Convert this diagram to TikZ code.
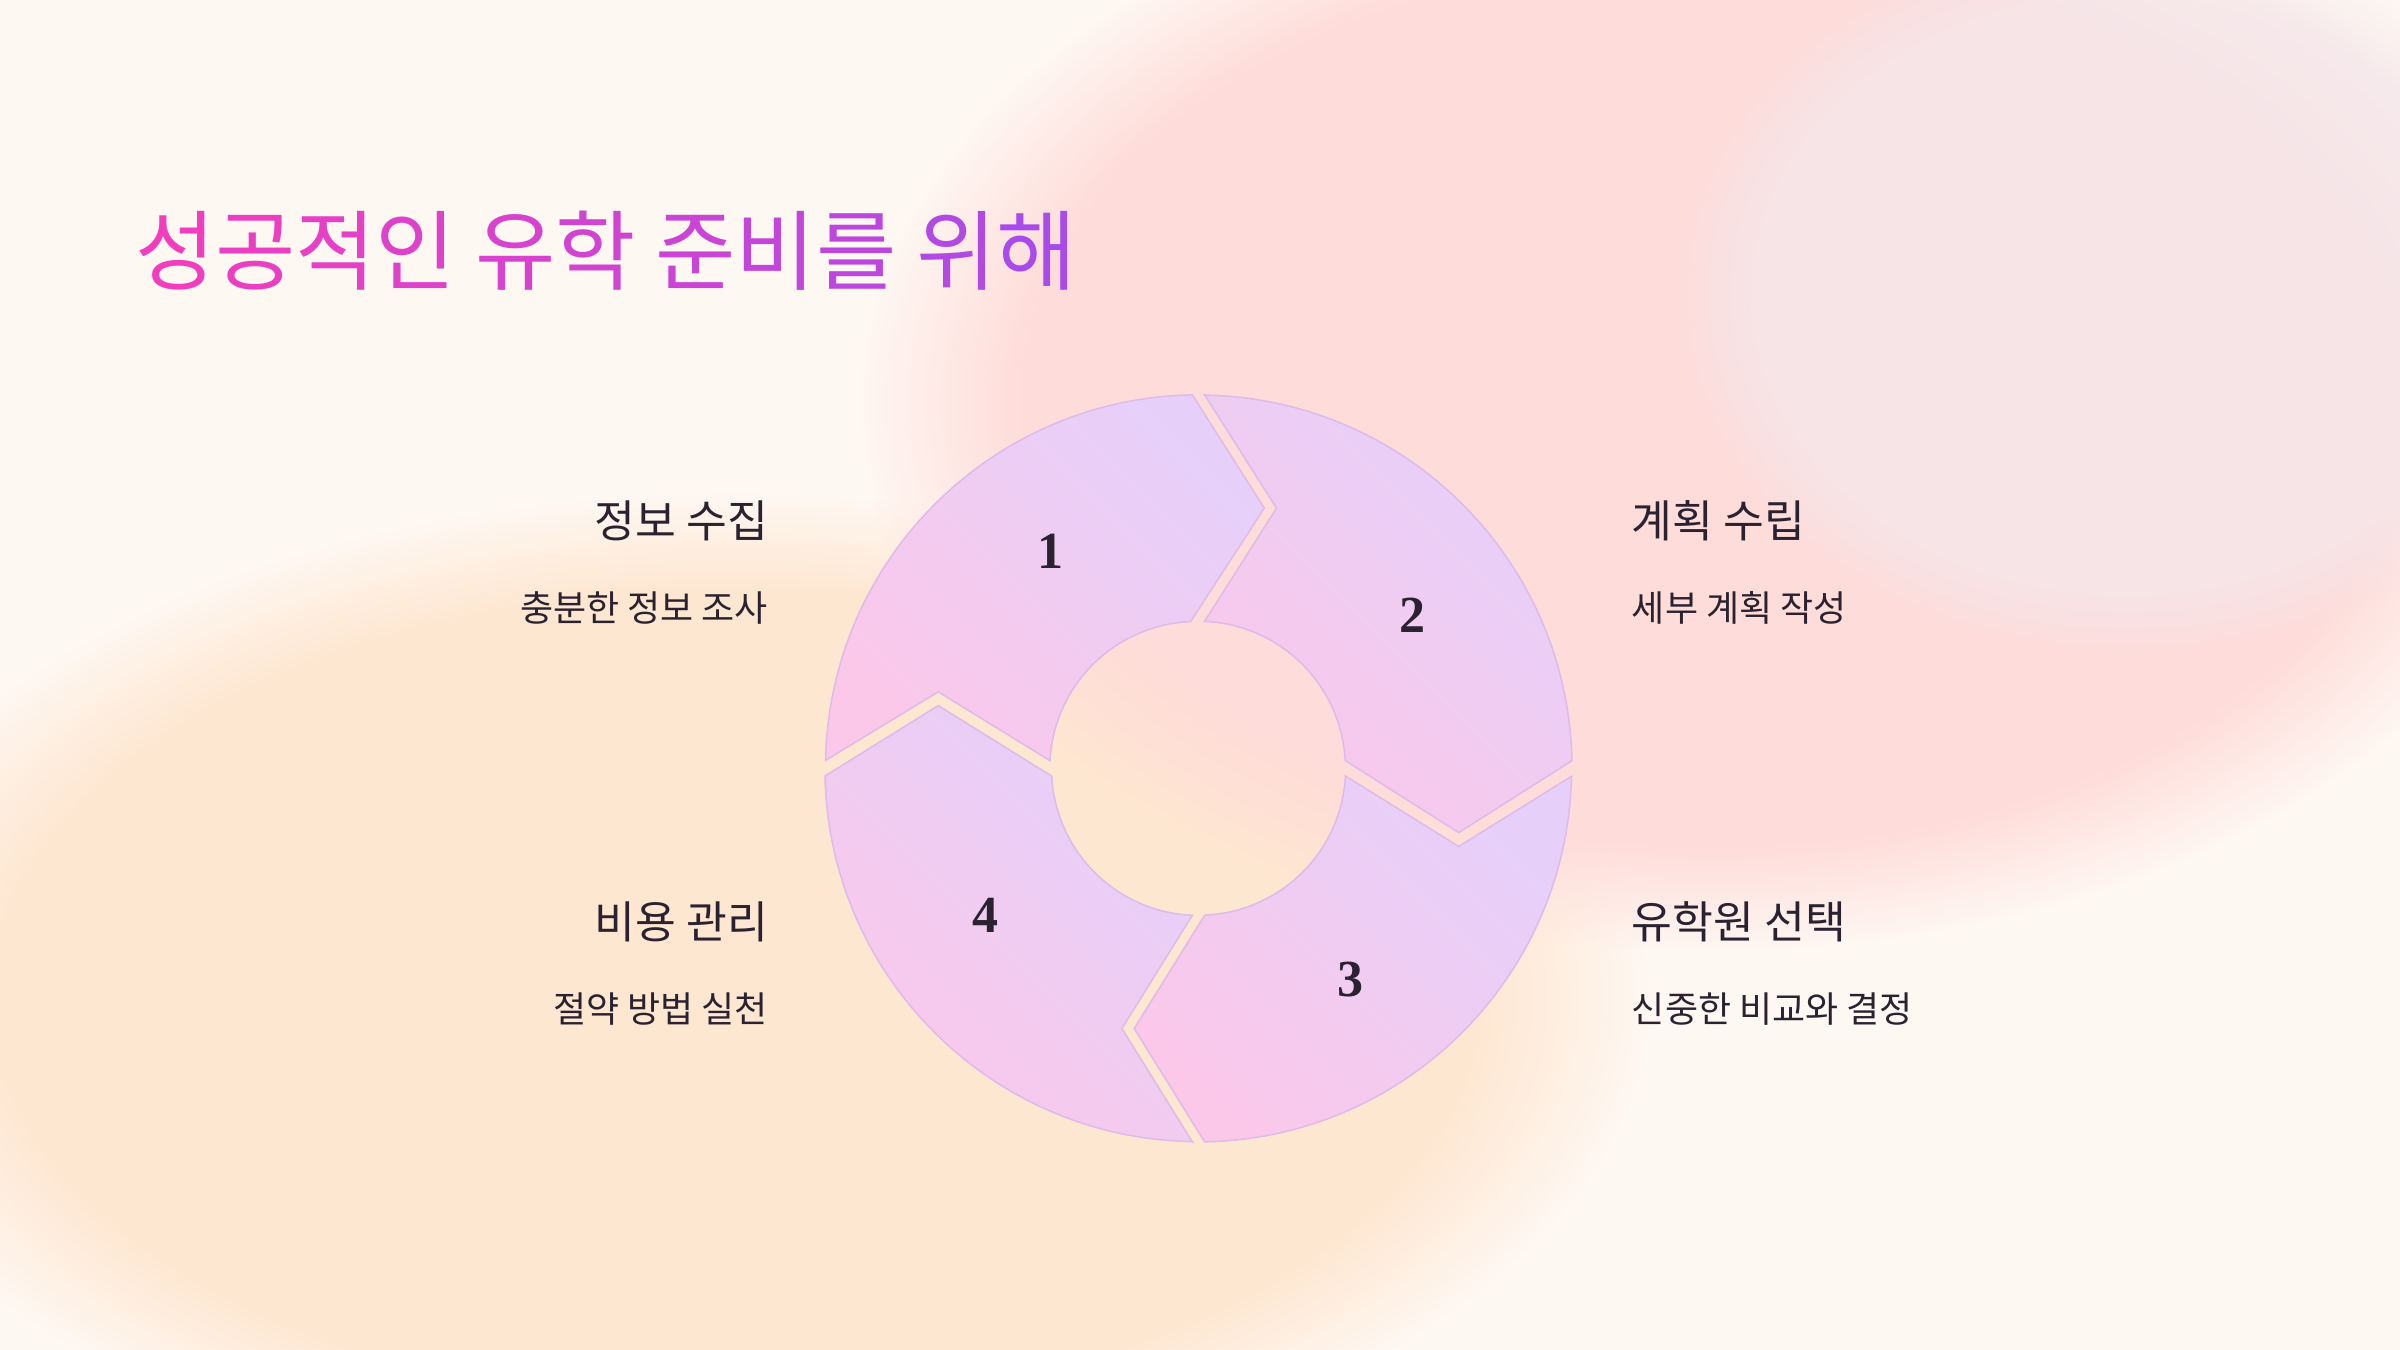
\documentclass[tikz,border=0pt]{standalone}
\usepackage{fontspec}
\setmainfont{Liberation Serif}
\newfontfamily\kr{Noto Sans CJK KR}
\usetikzlibrary{shadings,fadings}
\definecolor{bg}{HTML}{FEF8F3}
\definecolor{tA}{HTML}{F23EBE}
\definecolor{tB}{HTML}{A84BEA}
\definecolor{lav}{HTML}{E6D0FA}
\definecolor{pnk}{HTML}{FBC8EA}
\definecolor{edge}{HTML}{DDBBEA}
\definecolor{txt}{HTML}{2A2230}
\tikzset{seg/.style={draw=edge,line width=1pt,left color=pnk,right color=lav,shading angle=135},
 blob/.style={path fading=circle with fuzzy edge 20 percent},
 head/.style={font=\kr\fontsize{29}{32}\selectfont,text=txt,inner sep=0},
 sub/.style={font=\kr\fontsize{23.5}{26}\selectfont,text=txt,inner sep=0},
 num/.style={font=\bfseries\fontsize{34}{36}\selectfont,text=txt}}
\begin{document}
\begin{tikzpicture}[x=1pt,y=1pt]
\fill[bg] (0,0) rectangle (1568,882);
\useasboundingbox (0,0) rectangle (1568,882);
\begin{scope}
\clip (0,0) rectangle (1568,882);
\fill[blob,orange!14!bg] (480,230) ellipse (600 and 330);
\fill[blob,pink!50!bg] (1120,620) ellipse (560 and 360);
\fill[blob,violet!7!bg,opacity=0.8] (1390,690) ellipse (300 and 240);
\end{scope}
% title
\node[anchor=base west,inner sep=0,font=\kr\fontsize{57}{62}\selectfont] (title) at (88,697)
{\textcolor{tB!0!tA}{성}\textcolor{tB!9!tA}{공}\textcolor{tB!18!tA}{적}\textcolor{tB!27!tA}{인} \textcolor{tB!36!tA}{유}\textcolor{tB!45!tA}{학} \textcolor{tB!54!tA}{준}\textcolor{tB!63!tA}{비}\textcolor{tB!72!tA}{를} \textcolor{tB!85!tA}{위}\textcolor{tB!100!tA}{해}};
% segments
\shade[seg]
 (539,385) -- (613,430) -- (686,385) arc(177:92.4:96) -- (826,550) -- (779,624) arc(91:178.8:244) -- cycle;
\shade[seg]
 (787,624) -- (834,550) -- (787,476) arc(87.6:3:96) -- (953,338) -- (1027,385) arc(1.2:89:244) -- cycle;
\shade[seg]
 (1027,375) -- (953,329) -- (879,375) arc(-3:-87.6:96) -- (741,210) -- (787,136) arc(-89:-1.2:244) -- cycle;
\shade[seg]
 (779,136) -- (733,210) -- (779,284) arc(-92.4:-177:96) -- (613,421) -- (539,375) arc(181.2:269:244) -- cycle;
\node[num] (n1) at (686,522) {1};
\node[num] (n2) at (923,480) {2};
\node[num] (n3) at (882,242) {3};
\node[num] (n4) at (644,284) {4};
% labels
\node[head,anchor=east] (h1) at (502,542) {정보 수집};
\node[sub,anchor=east] (s1) at (502,485) {충분한 정보 조사};
\node[head,anchor=east] (h4) at (502,280) {비용 관리};
\node[sub,anchor=east] (s4) at (502,223) {절약 방법 실천};
\node[head,anchor=west] (h2) at (1066,542) {계획 수립};
\node[sub,anchor=west] (s2) at (1066,485) {세부 계획 작성};
\node[head,anchor=west] (h3) at (1066,280) {유학원 선택};
\node[sub,anchor=west] (s3) at (1066,223) {신중한 비교와 결정};
\end{tikzpicture}
\end{document}
